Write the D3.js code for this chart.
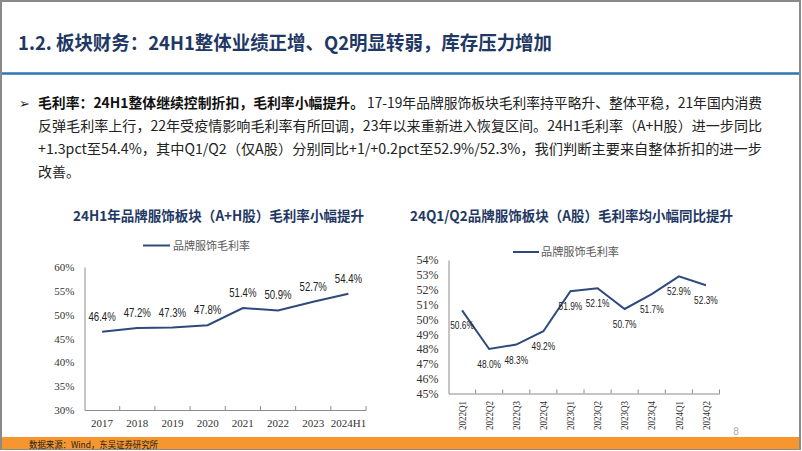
<!DOCTYPE html>
<html><head><meta charset="utf-8">
<script src="https://cdn.jsdelivr.net/npm/d3@7"></script>
<style>
html,body{margin:0;padding:0;background:#fff;}
svg{display:block;}
</style></head>
<body>
<svg id="c" width="802" height="451" viewBox="0 0 802 451"></svg>
<script>
// ---- data ----
const pageTitle = "1.2. 板块财务：24H1整体业绩正增、Q2明显转弱，库存压力增加";
const bulletBold = "毛利率：24H1整体继续控制折扣，毛利率小幅提升。";
const bulletLines = [
  "17-19年品牌服饰板块毛利率持平略升、整体平稳，21年国内消费",
  "反弹毛利率上行，22年受疫情影响毛利率有所回调，23年以来重新进入恢复区间。24H1毛利率（A+H股）进一步同比",
  "+1.3pct至54.4%，其中Q1/Q2（仅A股）分别同比+1/+0.2pct至52.9%/52.3%，我们判断主要来自整体折扣的进一步",
  "改善。"
];
const leftTitle = "24H1年品牌服饰板块（A+H股）毛利率小幅提升";
const rightTitle = "24Q1/Q2品牌服饰板块（A股）毛利率均小幅同比提升";
const seriesName = "品牌服饰毛利率";
const years = ["2017","2018","2019","2020","2021","2022","2023","2024H1"];
const marginAH = [46.4, 47.2, 47.3, 47.8, 51.4, 50.9, 52.7, 54.4];
const leftTicks = [30, 35, 40, 45, 50, 55, 60];
const quarters = ["2022Q1","2022Q2","2022Q3","2022Q4","2023Q1","2023Q2","2023Q3","2023Q4","2024Q1","2024Q2"];
const marginA = [50.6, 48.0, 48.3, 49.2, 51.9, 52.1, 50.7, 51.7, 52.9, 52.3];
const rightTicks = [45, 46, 47, 48, 49, 50, 51, 52, 53, 54];
const sourceText = "数据来源：Wind，东吴证券研究所";
const pageNo = "8";

// ---- styles ----
const NAVY = "#1F3864", LINE = "#2E4A7D", BLUE = "#2E75B6", ORANGE = "#F7962E";
const CJK = "'Noto Sans CJK SC','Noto Sans',sans-serif";
const SERIF = "'Liberation Serif','Times New Roman',serif";
const SANS = "'Liberation Sans',Arial,sans-serif";

const svg = d3.select("#c");

// page frame
svg.append("rect").attr("x",1).attr("y",1).attr("width",799).attr("height",448)
  .attr("fill","#fff").attr("stroke","#8a8a8a").attr("stroke-width",2);

// page title
svg.append("text").attr("x",18).attr("y",50).text(pageTitle)
  .attr("font-family",CJK).attr("font-weight","bold").attr("font-size",19)
  .attr("fill",NAVY).attr("textLength",534).attr("lengthAdjust","spacingAndGlyphs");
svg.append("line").attr("x1",2).attr("x2",799).attr("y1",73.5).attr("y2",73.5)
  .attr("stroke",BLUE).attr("stroke-width",2.5);

// bullet paragraph
svg.append("text").attr("x",19).attr("y",108).text("➢")
  .attr("font-family","'DejaVu Sans',sans-serif").attr("font-size",13).attr("fill","#222");
svg.append("text").attr("x",38).attr("y",108).text(bulletBold)
  .attr("font-family",CJK).attr("font-weight","bold").attr("font-size",14).attr("fill","#111")
  .attr("textLength",326).attr("lengthAdjust","spacingAndGlyphs");
const lineY = [108, 131, 154, 177];
const lineX = [367, 38, 38, 38];
const lineEnd = [762, 762, 762, null];
bulletLines.forEach((t,i)=>{
  const el = svg.append("text").attr("x",lineX[i]).attr("y",lineY[i]).text(t)
    .attr("font-family",CJK).attr("font-size",14).attr("fill","#222");
  if (lineEnd[i]) el.attr("textLength",lineEnd[i]-lineX[i]).attr("lengthAdjust","spacingAndGlyphs");
});

// ---------- left chart ----------
svg.append("text").attr("x",73).attr("y",221).text(leftTitle)
  .attr("font-family",CJK).attr("font-weight","bold").attr("font-size",14).attr("fill",NAVY)
  .attr("textLength",291).attr("lengthAdjust","spacingAndGlyphs");

const xL = d3.scaleBand().domain(years).range([84.5, 366]);
const yL = d3.scaleLinear().domain([30, 60]).range([410, 267]);

// legend
svg.append("line").attr("x1",143).attr("x2",170).attr("y1",245.5).attr("y2",245.5)
  .attr("stroke",LINE).attr("stroke-width",2);
svg.append("text").attr("x",173).attr("y",249.5).text(seriesName)
  .attr("font-family",CJK).attr("font-size",11).attr("fill","#595959")
  .attr("textLength",77).attr("lengthAdjust","spacingAndGlyphs");

// y axis
const gyL = svg.append("g").attr("transform","translate(84.5,0)")
  .call(d3.axisLeft(yL).tickValues(leftTicks).tickFormat(d=>d+"%").tickSize(0).tickPadding(10));
gyL.select(".domain").attr("stroke","#8c8c8c");
gyL.selectAll("text").attr("font-family",SERIF).attr("font-size",11).attr("fill","#333");

// x axis
const gxL = svg.append("g").attr("transform","translate(0,410)")
  .call(d3.axisBottom(xL).tickSize(0).tickSizeOuter(0).tickPadding(9));
gxL.select(".domain").attr("stroke","#8c8c8c");
gxL.selectAll("text").attr("font-family",SERIF).attr("font-size",11).attr("fill","#333");
svg.append("g").selectAll("line").data(years.slice(1).concat(["__end"])).join("line")
  .attr("x1",(d,i)=> i < years.length-1 ? xL(d) : xL.range()[1])
  .attr("x2",(d,i)=> i < years.length-1 ? xL(d) : xL.range()[1])
  .attr("y1",410).attr("y2",406).attr("stroke","#8c8c8c");

const lineGenL = d3.line().x((d,i)=>xL(years[i])+xL.bandwidth()/2).y(d=>yL(d));
svg.append("path").datum(marginAH).attr("d",lineGenL)
  .attr("fill","none").attr("stroke",LINE).attr("stroke-width",2);

svg.append("g").selectAll("text").data(marginAH).join("text")
  .attr("transform",(d,i)=>`translate(${xL(years[i])+xL.bandwidth()/2},${yL(d)-11}) scale(0.8,1)`)
  .attr("text-anchor","middle").text(d=>d.toFixed(1)+"%")
  .attr("font-family",SANS).attr("font-size",12).attr("fill","#222");

// ---------- right chart ----------
svg.append("text").attr("x",410).attr("y",221).text(rightTitle)
  .attr("font-family",CJK).attr("font-weight","bold").attr("font-size",14).attr("fill",NAVY)
  .attr("textLength",323).attr("lengthAdjust","spacingAndGlyphs");

const xR = d3.scaleBand().domain(quarters).range([448.5, 719.5]);
const yR = d3.scaleLinear().domain([45, 54]).range([393.5, 260]);

svg.append("line").attr("x1",513).attr("x2",539).attr("y1",252).attr("y2",252)
  .attr("stroke",LINE).attr("stroke-width",2);
svg.append("text").attr("x",541).attr("y",256).text(seriesName)
  .attr("font-family",CJK).attr("font-size",11).attr("fill","#595959")
  .attr("textLength",78).attr("lengthAdjust","spacingAndGlyphs");

const gyR = svg.append("g").attr("transform","translate(448.5,0)")
  .call(d3.axisLeft(yR).tickValues(rightTicks).tickFormat(d=>d+"%").tickSize(0).tickPadding(10));
gyR.select(".domain").attr("stroke","#8c8c8c");
gyR.selectAll("text").attr("font-family",SERIF).attr("font-size",12).attr("fill","#333");

const gxR = svg.append("g").attr("transform","translate(0,393.5)")
  .call(d3.axisBottom(xR).tickSize(0).tickSizeOuter(0).tickFormat(""));
gxR.select(".domain").attr("stroke","#8c8c8c");
svg.append("g").selectAll("line").data(quarters.slice(1).concat(["__end"])).join("line")
  .attr("x1",(d,i)=> i < quarters.length-1 ? xR(d) : xR.range()[1])
  .attr("x2",(d,i)=> i < quarters.length-1 ? xR(d) : xR.range()[1])
  .attr("y1",393.5).attr("y2",389.5).attr("stroke","#8c8c8c");
svg.append("g").selectAll("text").data(quarters).join("text")
  .attr("transform",d=>`translate(${xR(d)+xR.bandwidth()/2},401) rotate(-90)`)
  .attr("text-anchor","end").attr("dy","0.35em").text(d=>d)
  .attr("font-family",SERIF).attr("font-size",10.5).attr("fill","#333")
  .attr("textLength",29).attr("lengthAdjust","spacingAndGlyphs");

const lineGenR = d3.line().x((d,i)=>xR(quarters[i])+xR.bandwidth()/2).y(d=>yR(d));
svg.append("path").datum(marginA).attr("d",lineGenR)
  .attr("fill","none").attr("stroke",LINE).attr("stroke-width",2);

svg.append("g").selectAll("text").data(marginA).join("text")
  .attr("transform",(d,i)=>`translate(${xR(quarters[i])+xR.bandwidth()/2},${yR(d)+19}) scale(0.76,1)`)
  .attr("text-anchor","middle").text(d=>d.toFixed(1)+"%")
  .attr("font-family",SANS).attr("font-size",11).attr("fill","#222");

// page number
svg.append("text").attr("x",736).attr("y",435).attr("text-anchor","middle").text(pageNo)
  .attr("font-family",SANS).attr("font-size",10).attr("fill","#aaa");

// footer
svg.append("rect").attr("x",2).attr("y",437).attr("width",797).attr("height",12).attr("fill",ORANGE);
svg.append("text").attr("x",29).attr("y",447.5).text(sourceText)
  .attr("font-family",CJK).attr("font-size",9).attr("fill","#222")
  .attr("textLength",129).attr("lengthAdjust","spacingAndGlyphs");
</script>
</body></html>
